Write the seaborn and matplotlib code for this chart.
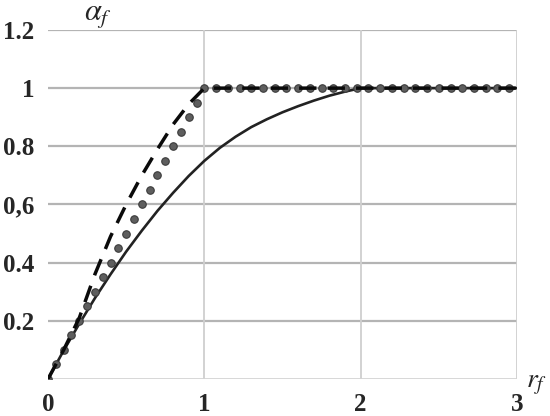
import matplotlib
matplotlib.use("Agg")
import matplotlib.pyplot as plt
import seaborn as sns

# ─── Dane ─────────────────────────────────────────────────────────────
# linia ciągła
solid_x = [0, 0.1, 0.2, 0.3, 0.4, 0.5, 0.6, 0.7, 0.8, 0.9, 1.0, 1.1, 1.2,
           1.3, 1.4, 1.5, 1.6, 1.7, 1.8, 1.9, 2.0, 3.0]
solid_y = [0, 0.098, 0.19, 0.278, 0.36, 0.438, 0.51, 0.578, 0.64, 0.698,
           0.75, 0.795, 0.833, 0.866, 0.893, 0.917, 0.938, 0.957, 0.974,
           0.988, 1.0, 1.0]

# linia przerywana
dash_x = [0, 0.1, 0.2, 0.3, 0.4, 0.5, 0.6, 0.7, 0.8, 0.9, 1.0, 3.0]
dash_y = [0, 0.1, 0.21, 0.36, 0.49, 0.6, 0.7, 0.79, 0.875, 0.945, 1.0, 1.0]

# punkty (kropki)
dot_x = [0, 0.05, 0.1, 0.15, 0.2, 0.25, 0.3, 0.35, 0.4, 0.45, 0.5, 0.55,
         0.6, 0.65, 0.7, 0.75, 0.8, 0.85, 0.9, 0.95, 1.0,
         1.075, 1.15, 1.225, 1.3, 1.375, 1.45, 1.525, 1.6, 1.675, 1.75,
         1.825, 1.9, 1.975, 2.05, 2.125, 2.2, 2.275, 2.35, 2.425, 2.5,
         2.575, 2.65, 2.725, 2.8, 2.875, 2.95]
dot_y = [0, 0.05, 0.1, 0.15, 0.2, 0.25, 0.3, 0.35, 0.4, 0.45, 0.5, 0.55,
         0.6, 0.65, 0.7, 0.75, 0.8, 0.85, 0.9, 0.95, 1.0,
         1, 1, 1, 1, 1, 1, 1, 1, 1, 1, 1, 1, 1, 1, 1, 1, 1, 1, 1, 1,
         1, 1, 1, 1, 1, 1]

x_ticks = [0, 1, 2, 3]
x_labels = ["0", "1", "2", "3"]
y_ticks = [0.2, 0.4, 0.6, 0.8, 1.0, 1.2]
y_labels = ["0.2", "0.4", "0,6", "0.8", "1", "1.2"]

# ─── Styl ────────────────────────────────────────────────────────────
sns.set_style("white")
plt.rcParams.update({
    'font.family': ['Liberation Serif', 'DejaVu Serif'],
    'mathtext.fontset': 'stix',
})

fig = plt.figure(figsize=(5.5, 4.16), dpi=100)
ax = fig.add_axes([0.0873, 0.0889, 0.8527, 0.8391])

sns.lineplot(x=solid_x, y=solid_y, ax=ax, color='#222222', linewidth=1.9,
             zorder=3)
ax.plot(dot_x, dot_y, linestyle='none', marker='o', markersize=5.4,
        markerfacecolor='#5e5e5e', markeredgecolor='#3a3a3a',
        markeredgewidth=0.8, zorder=4)
sns.lineplot(x=dash_x, y=dash_y, ax=ax, color='#0a0a0a', linewidth=2.5,
             linestyle='--', zorder=5)
ax.lines[-1].set_dashes((5, 3.2))

ax.set_xlim(0, 3)
ax.set_ylim(0, 1.2)

# siatka
for yv in y_ticks:
    ax.axhline(yv, color='#b4b4b4', linewidth=1.6, zorder=1)
for xv in [1, 2, 3]:
    ax.axvline(xv, color='#cfcfcf', linewidth=1.3, zorder=1)
ax.axhline(0, color='#d4d4d4', linewidth=1.3, zorder=1)

for s in ax.spines.values():
    s.set_visible(False)

ax.set_xticks(x_ticks)
ax.set_xticklabels(x_labels, fontsize=18, fontweight='bold')
ax.set_yticks(y_ticks)
ax.set_yticklabels(y_labels, fontsize=18, fontweight='bold')
ax.tick_params(axis='y', length=0, pad=10)
ax.tick_params(axis='x', length=0, pad=10)

fig.text(0.178, 0.962, r'$\alpha_f$', fontsize=22, ha='center', va='center')
fig.text(0.975, 0.075, r'$r_f$', fontsize=20, ha='center', va='center')

fig.savefig("out.png", dpi=100)
